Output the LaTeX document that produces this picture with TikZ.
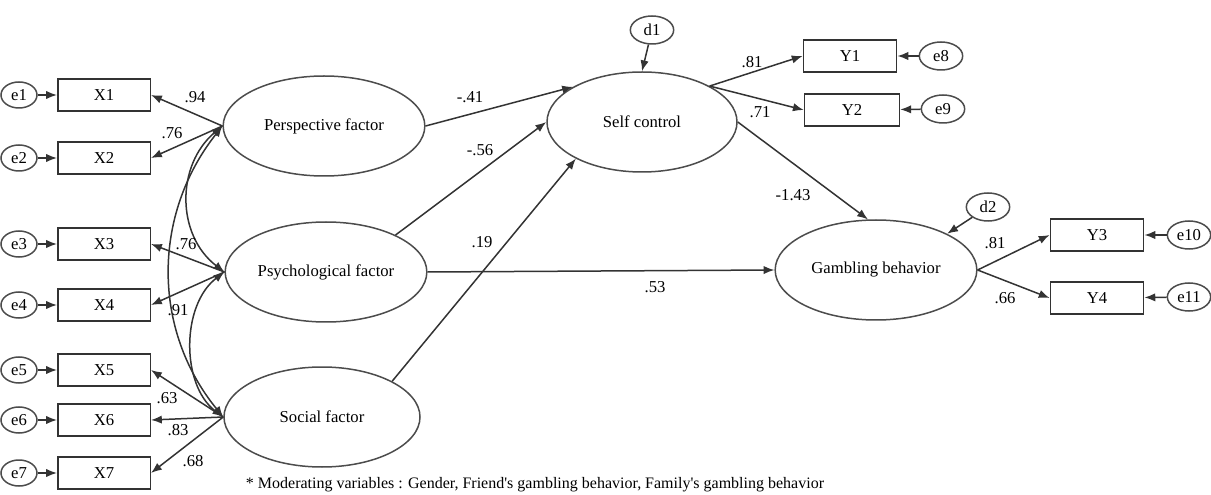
\documentclass[tikz,border=0pt]{standalone}
\usepackage{fontspec}
\setmainfont{Liberation Serif}
\usepackage{tikz}
\usetikzlibrary{arrows.meta,positioning,shapes.geometric}

\begin{document}
\begin{tikzpicture}[
  x=0.6pt, y=-0.6pt,
  >={Latex[length=6.5pt,width=5pt]}, line width=0.9pt, draw=black!80,
  font=\fontsize{10}{12}\selectfont,
  obs/.style={draw=black!80, rectangle, minimum width=55.5pt, minimum height=19pt, inner sep=0pt},
  lat/.style={draw=black!70, ellipse, minimum width=121pt, minimum height=60pt, inner sep=0pt},
  err/.style={draw=black!70, ellipse, minimum width=21.6pt, minimum height=15.6pt, inner sep=0pt},
  dist/.style={draw=black!70, ellipse, minimum width=26pt, minimum height=16.8pt, inner sep=0pt},
  coef/.style={font=\fontsize{10}{12}\selectfont, inner sep=0pt}
]
\useasboundingbox (0,0) rectangle (1211,495);

% Latent factors
\node[lat] (pers) at (324,126) {Perspective factor};
\node[lat] (psy) at (326,272) {Psychological factor};
\node[lat, minimum width=117.6pt] (soc) at (322,417) {Social factor};
\node[lat, minimum width=114pt] (self) at (642,122) {Self control};
\node[lat] (gamb) at (876,270) {Gambling behavior};

% Indicators X1-X7 with their errors
\foreach \i/\y in {1/95,2/158,3/244,4/305,5/370,6/420,7/473}{
  \node[obs] (X\i) at (104,\y) {X\i};
  \node[err] (e\i) at (19,\y) {e\i};
  \draw[->] (e\i) -- (X\i);
}
\foreach \f/\i in {pers/1,pers/2,psy/3,psy/4,soc/5,soc/6,soc/7}
  \draw[->] (\f.west) -- (X\i.east);

% Indicators Y1-Y4 with their errors
\node[obs, minimum width=56pt] (Y1) at (850,56) {Y1};
\node[obs, minimum width=57pt] (Y2) at (852,110) {Y2};
\node[obs, minimum width=56pt] (Y3) at (1097,235) {Y3};
\node[obs, minimum width=56pt] (Y4) at (1097,298) {Y4};
\node[dist] (e8) at (941,56) {e8};
\node[dist] (e9) at (943,109) {e9};
\node[dist] (e10) at (1189,235) {e10};
\node[dist] (e11) at (1189,297) {e11};
\foreach \e/\y in {e8/Y1,e9/Y2,e10/Y3,e11/Y4}
  \draw[->] (\e) -- (\y);
\draw[->] (self.28) -- (Y1.west);
\draw[->] (self.28) -- (Y2.west);
\draw[->] (gamb.east) -- (Y3.west);
\draw[->] (gamb.east) -- (Y4.west);

% Disturbances
\node[dist] (d1) at (652,30) {d1};
\node[dist] (d2) at (988,207) {d2};
\draw[->] (d1) -- (self.north);
\draw[->] (d2) -- (gamb.27);

% Structural paths
\draw[->] (pers.east) -- (self.153);
\draw[->] (psy.28) -- (self.west);
\draw[->] (soc.27) -- (self.209);
\draw[->] (psy.east) -- (gamb.west);
\draw[->] (self.east) -- (gamb.99);

% Covariances between exogenous factors
\draw[<->] (pers.west) .. controls (176,165) and (176,235) .. (psy.west);
\draw[<->] (pers.west) .. controls (152,215) and (152,330) .. (soc.west);
\draw[<->] (psy.west) .. controls (181,305) and (181,385) .. (soc.west);

% Coefficients
\foreach \t/\x/\y [count=\n] in {.94/195/97, .76/172/133, .76/186/244, .91/178/310,
    .63/167/398, .83/178/430, .68/193/461, -.41/470/97, -.56/480/150, .19/482/242,
    .53/655/287, .81/752/62, .71/760/112, -1.43/793/195, .81/995/243, .66/1005/298}
  \node[coef] (k\n) at (\x,\y) {\t};

\node[font=\fontsize{9.6}{11}\selectfont] (note) at (535,485)
  {* Moderating variables : Gender, Friend\textquotesingle s gambling behavior, Family\textquotesingle s gambling behavior};
\end{tikzpicture}
\end{document}
